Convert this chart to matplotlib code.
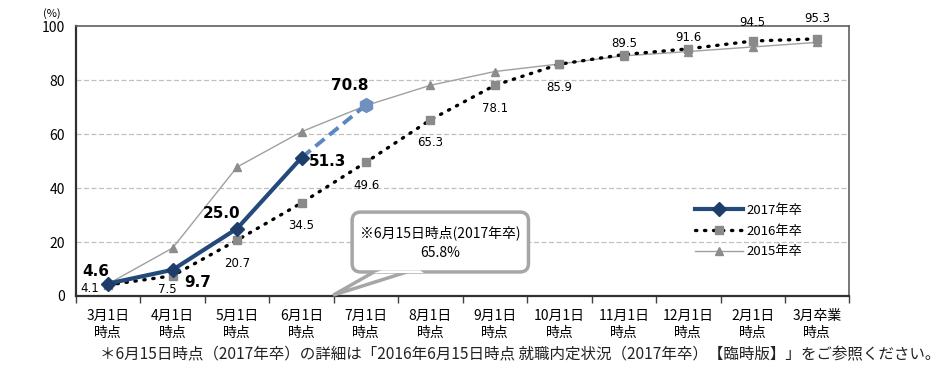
import numpy as np
import matplotlib
matplotlib.use("Agg")
import matplotlib.pyplot as plt
from matplotlib.patches import FancyBboxPatch, Polygon

plt.rcParams['font.family'] = ['Noto Sans CJK JP', 'DejaVu Sans']

cats = ["3月1日\n時点", "4月1日\n時点", "5月1日\n時点", "6月1日\n時点", "7月1日\n時点", "8月1日\n時点",
        "9月1日\n時点", "10月1日\n時点", "11月1日\n時点", "12月1日\n時点", "2月1日\n時点", "3月卒業\n時点"]
y2017 = [4.6, 9.7, 25.0, 51.3]
y2017_proj = [51.3, 70.8]   # 6/1 -> 7/1 (dashed)
y2016 = [4.1, 7.5, 20.7, 34.5, 49.6, 65.3, 78.1, 85.9, 89.5, 91.6, 94.5, 95.3]
y2015 = [4.5, 17.8, 47.8, 60.9, 70.6, 78.1, 83.2, 86.0, 89.0, 90.6, 92.3, 94.0]

x = np.arange(len(cats))
x17 = x[:len(y2017)]
xproj = x[len(y2017) - 1:len(y2017) - 1 + len(y2017_proj)]

fig = plt.figure(figsize=(9.52, 3.74), dpi=100)
ax = fig.add_axes([0.0798, 0.2086, 0.8125, 0.7214])

ax.plot(x, y2015, color="#a0a0a0", lw=1.0, marker="^", ms=6, mfc="#8c8c8c", mec="#8c8c8c",
        label="2015年卒", zorder=2)
ax.plot(x, y2016, color="black", lw=2.4, ls=(0, (0.4, 2.3)), dash_capstyle="round", marker="s", ms=6,
        mfc="#8a8a8a", mec="#8a8a8a", label="2016年卒", zorder=3)
ax.plot(xproj, y2017_proj, color="#5b87c0", lw=2.8, ls=(0, (3, 1.6)), zorder=4)
ax.plot(xproj[-1:], y2017_proj[-1:], ls="none", marker="h", ms=10, color="#7090c0", zorder=5)
ax.plot(x17, y2017, color="#244a7c", lw=3.0, marker="D", ms=7, mfc="#1f3d6a", mec="#1f3d6a",
        label="2017年卒", zorder=6)

ax.set_xlim(-0.5, len(cats) - 0.5)
ax.set_ylim(0, 100)
ax.set_yticks([0, 20, 40, 60, 80, 100])
ax.tick_params(axis="y", length=0, labelsize=10, pad=8)
ax.set_xticks(x)
ax.set_xticklabels(cats, fontsize=10, linespacing=1.35)
ax.tick_params(axis="x", length=0, pad=9)
ax.set_xticks(np.arange(len(cats) + 1) - 0.5, minor=True)
ax.tick_params(axis="x", which="minor", length=5, width=1, color="#404040", direction="out")
for yv in [20, 40, 60, 80]:
    ax.axhline(yv, color="#c0c0c0", lw=0.9, ls=(0, (4, 2)), zorder=1)
for s in ["left", "bottom"]:
    ax.spines[s].set_color("#303030")
    ax.spines[s].set_linewidth(1.6)
for s in ["top", "right"]:
    ax.spines[s].set_color("#606060")
    ax.spines[s].set_linewidth(1.2)

fig.text(0.054, 0.963, "(%)", fontsize=8, ha="center", va="center")

# 2017 labels (bold)
off17 = [(-9, 9), (18, -9), (-11, 11), (19, -3)]
for xi, v, o in zip(x17, y2017, off17):
    ax.annotate(f"{v:.1f}", (xi, v), xytext=o, textcoords="offset points", ha="center", va="center",
                fontsize=11, fontweight="bold", family="DejaVu Sans")
ax.annotate(f"{y2017_proj[-1]:.1f}", (xproj[-1], y2017_proj[-1]), xytext=(-12, 14), textcoords="offset points",
            ha="center", va="center", fontsize=11, fontweight="bold", family="DejaVu Sans")

# 2016 labels
off16 = [(-13, -2.5), (-4, -10), (0, -16.5), (0, -16.5), (0, -16.5), (0, -16.5), (0, -16.5), (0, -16.5),
         (0, 8), (0, 8), (0, 13.5), (0, 15)]
for xi, v, o in zip(x, y2016, off16):
    ax.annotate(f"{v:.1f}", (xi, v), xytext=o, textcoords="offset points", ha="center", va="center",
                fontsize=8.5, family="DejaVu Sans")

# callout (axes fraction coords)
asp = (0.8125 * 952) / (0.7214 * 374)
box = FancyBboxPatch((0.357, 0.089), 0.228, 0.222, boxstyle="round,pad=0,rounding_size=0.011",
                     mutation_aspect=asp, transform=ax.transAxes, fc="white", ec="#a6a6a6", lw=2.5,
                     zorder=7, clip_on=False)
ax.add_patch(box)
ptr = Polygon([(0.3325, 0.003), (0.392, 0.1), (0.44, 0.1)], closed=True, transform=ax.transAxes,
              fc="white", ec="#a6a6a6", lw=2.5, zorder=6.5, clip_on=False)
ax.add_patch(ptr)
ptr_fill = Polygon([(0.385, 0.085), (0.395, 0.095), (0.445, 0.095), (0.45, 0.085)], closed=True,
                   transform=ax.transAxes, fc="white", ec="none", zorder=7.5, clip_on=False)
ax.add_patch(ptr_fill)
ax.text(0.471, 0.233, "※6月15日時点(2017年卒)", transform=ax.transAxes, ha="center", va="center",
        fontsize=10, zorder=8)
ax.text(0.471, 0.159, "65.8%", transform=ax.transAxes, ha="center", va="center", fontsize=10, zorder=8)

h, l = ax.get_legend_handles_labels()
leg = ax.legend(h[::-1], l[::-1], loc="lower right", bbox_to_anchor=(0.955, 0.095), frameon=False,
                fontsize=9.5, handlelength=3.6, labelspacing=0.6, handletextpad=0.3)

fig.text(0.988, 0.051, "＊6月15日時点（2017年卒）の詳細は「2016年6月15日時点 就職内定状況（2017年卒）【臨時版】」をご参照ください。",
         ha="right", va="center", fontsize=11.2, color="#222222")

fig.savefig("out.png", dpi=100)
